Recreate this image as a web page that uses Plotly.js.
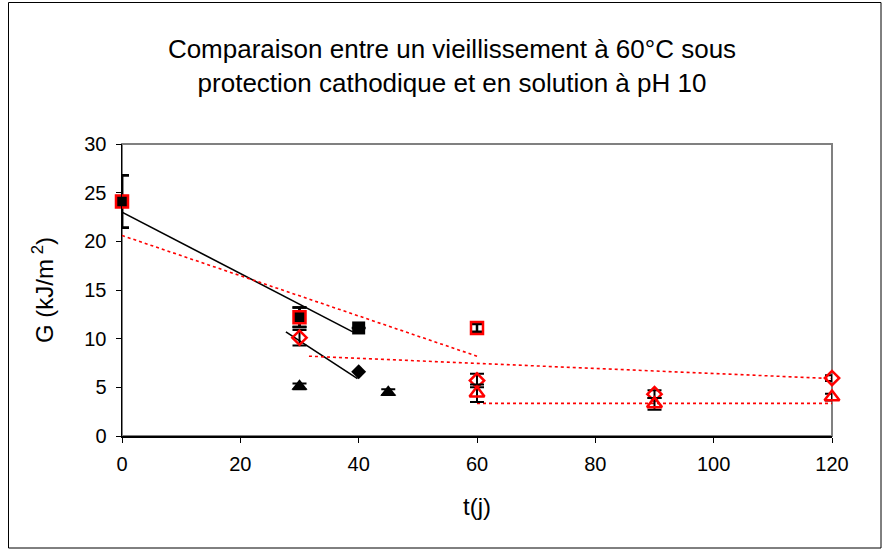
<!DOCTYPE html>
<html><head><meta charset="utf-8">
<script src="https://cdn.plot.ly/plotly-3.0.1.min.js"></script>
<style>html,body{margin:0;padding:0;background:#fff}#chart{width:882px;height:550px}</style>
</head><body><div id="chart"></div>
<script>
// Black series: protection cathodique
const blkSqX = [0, 30, 40];
const blkSqY = [24.1, 12.2, 11.1];
const blkSqErr = [2.7, 1.0, 0.0];
const blkDiX = [40];
const blkDiY = [6.6];
const blkTrX = [30, 45];
const blkTrY = [5.1, 4.5];
const blkTrErr = [0.3, 0.3];
// Red series: solution pH 10
const redSqX = [0, 30, 60];
const redSqY = [24.1, 12.2, 11.1];
const redSqErr = [2.7, 1.0, 0.4];
const redDiX = [30, 60, 90, 120];
const redDiY = [10.1, 5.7, 4.3, 5.95];
const redDiErr = [0.8, 0.7, 0.4, 0.3];
const redTrX = [60, 90, 120];
const redTrY = [4.4, 3.3, 4.0];
const redTrErr = [0.9, 0.6, 0.35];
// Trend lines (endpoints)
const trBlkSqX = [0, 39], trBlkSqY = [23.0, 10.7];
const trBlkDiX = [27.7, 39.8], trBlkDiY = [10.7, 5.9];
const trRedSqX = [0, 60], trRedSqY = [20.6, 8.2];
const trRedDiX = [31.6, 120], trRedDiY = [8.2, 5.9];
const trRedTrX = [60, 120], trRedTrY = [3.35, 3.35];

const xTicks = [0, 20, 40, 60, 80, 100, 120];
const yTicks = [0, 5, 10, 15, 20, 25, 30];

const RED = '#ff0000';
function errBar(arr, th) {
  return {type: 'data', array: arr, visible: true, color: '#000', thickness: th, width: 7};
}
function line(x, y, color, dash, w) {
  return {x, y, mode: 'lines', line: {color, dash, width: w}, hoverinfo: 'skip', cliponaxis: false};
}
const traces = [
  line(trBlkSqX, trBlkSqY, '#000', 'solid', 1.6),
  line(trBlkDiX, trBlkDiY, '#000', 'solid', 1.6),
  line(trRedSqX, trRedSqY, RED, 'dot', 1.6),
  line(trRedDiX, trRedDiY, RED, 'dot', 1.6),
  line(trRedTrX, trRedTrY, RED, 'dot', 1.6),
  {x: blkDiX, y: blkDiY, mode: 'markers', cliponaxis: false, marker: {symbol: 'diamond', size: 11.5, color: '#000'}},
  {x: blkSqX, y: blkSqY, mode: 'markers', cliponaxis: false, error_y: errBar(blkSqErr, 2.5), marker: {symbol: 'square', size: 13, color: '#000'}},
  {x: blkTrX, y: blkTrY, mode: 'markers', cliponaxis: false, error_y: errBar(blkTrErr, 2), marker: {symbol: 'triangle-up', size: 14, color: '#000'}},
  {x: redSqX, y: redSqY, mode: 'markers', cliponaxis: false, error_y: errBar(redSqErr, 2.5), marker: {symbol: 'square', size: 12, color: 'rgba(0,0,0,0)', line: {color: RED, width: 2.5}}},
  {x: redDiX, y: redDiY, mode: 'markers', cliponaxis: false, error_y: errBar(redDiErr, 2), marker: {symbol: 'diamond', size: 11, color: 'rgba(0,0,0,0)', line: {color: RED, width: 2.5}}},
  {x: redTrX, y: redTrY, mode: 'markers', cliponaxis: false, error_y: errBar(redTrErr, 2), marker: {symbol: 'triangle-up', size: 13, color: 'rgba(0,0,0,0)', line: {color: RED, width: 2.5}}}
];

const L = 122, R = 832, T = 144, B = 436;
const px = v => (v - L) / (R - L);
const py = v => (B - v) / (B - T);

const layout = {
  width: 882, height: 550,
  margin: {l: L, r: 882 - R, t: T, b: 550 - B},
  paper_bgcolor: '#fff', plot_bgcolor: '#fff',
  showlegend: false,
  font: {family: '"Liberation Sans", Arial, sans-serif', color: '#000', size: 20},
  title: {text: 'Comparaison entre un vieillissement à 60°C sous<br>protection cathodique et en solution à pH 10',
          font: {size: 26, color: '#000'}, x: 452 / 882, xanchor: 'center', xref: 'container',
          y: 1 - 58 / 550, yanchor: 'middle', yref: 'container'},
  xaxis: {range: [0, 120], tickvals: xTicks, ticktext: xTicks.map(String), showgrid: false, zeroline: false,
          showline: true, linecolor: '#000', linewidth: 1.5, ticks: 'outside', ticklen: 5, tickcolor: '#000',
          ticklabelstandoff: 4,
          tickfont: {size: 20}, title: {text: 't(j)', font: {size: 24}, standoff: 24}},
  yaxis: {range: [0, 30], tickvals: yTicks, ticktext: yTicks.map(String), showgrid: false, zeroline: false,
          showline: true, linecolor: '#000', linewidth: 1.5, ticks: 'outside', ticklen: 5, tickcolor: '#000',
          ticklabelstandoff: 5,
          tickfont: {size: 20}, title: {text: 'G (kJ/m<sup> 2</sup>)', font: {size: 24}, standoff: 24}},
  shapes: [
    {type: 'rect', xref: 'paper', yref: 'paper', x0: 0, x1: 1, y0: 0, y1: 1, line: {color: '#808080', width: 2}, layer: 'below'},
    {type: 'rect', xref: 'paper', yref: 'paper', x0: px(8.5), x1: px(881), y0: py(548), y1: py(2.5), line: {color: '#000', width: 1}}
  ]
};
Plotly.newPlot('chart', traces, layout, {displayModeBar: false, staticPlot: true});
</script></body></html>
